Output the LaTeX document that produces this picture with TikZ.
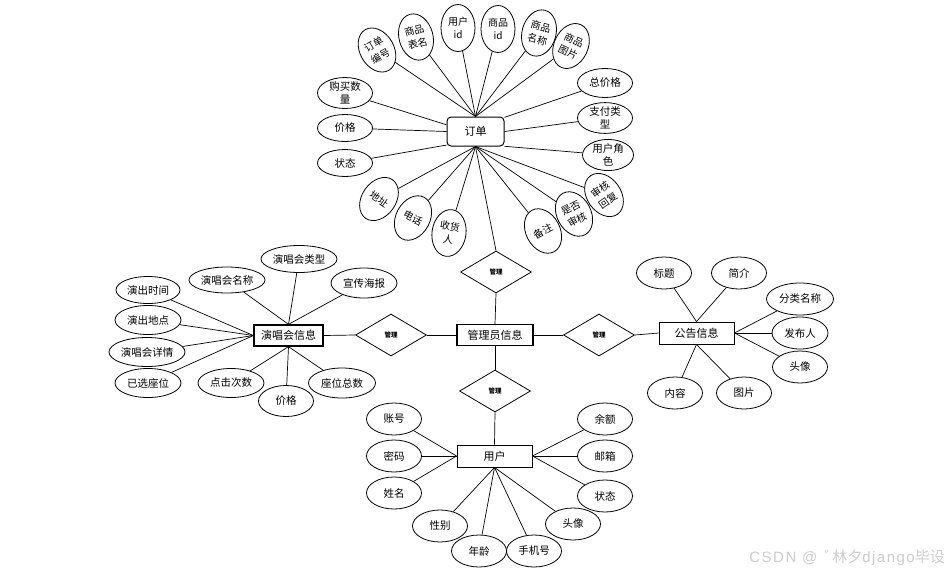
\documentclass[tikz,border=0pt]{standalone}
\usepackage{fontspec}
\setmainfont{Noto Sans CJK SC}
\newfontfamily\wmlatin{Liberation Sans}[LetterSpace=10]
\usetikzlibrary{shapes.geometric}
\begin{document}
\begin{tikzpicture}[x=1pt,y=-1pt,
  attr/.style={ellipse,draw,line width=0.8pt,minimum width=55pt,minimum height=29pt,inner sep=0pt,font=\fontsize{10.5}{12.5}\selectfont,align=center},
  rattr/.style={ellipse,draw,line width=0.8pt,minimum width=34pt,minimum height=47pt,inner sep=0pt,font=\fontsize{10}{13.5}\selectfont,align=center},
  ent/.style={rectangle,draw,line width=1pt,minimum width=75pt,minimum height=22pt,inner sep=0pt,font=\fontsize{11}{13}\selectfont},
  rel/.style={diamond,draw,line width=0.8pt,minimum width=71pt,minimum height=42pt,inner sep=0pt,font=\fontsize{6.5}{7.5}\selectfont\bfseries},
  link/.style={line width=0.7pt}]
\useasboundingbox (0,0) rectangle (950,576);

% ---------- order ----------
\node[ent,rounded corners=4pt,minimum width=57pt,minimum height=29pt] (order) at (475.5,131.5) {订单};
\node[rattr,rotate=30]  (a1) at (377,50) {订单\\编号};
\node[rattr,rotate=15]  (a2) at (416,37) {商品\\表名};
\node[rattr]            (a3) at (458,28) {用户\\id};
\node[rattr]            (a4) at (498,29) {商品\\id};
\node[rattr,rotate=-15] (a5) at (539,33) {商品\\名称};
\node[rattr,rotate=-25] (a6) at (571,46) {商品\\图片};
\node[attr,minimum height=27pt] (b1) at (345,93) {购买数\\量};
\node[attr,minimum height=27pt] (b2) at (345,128) {价格};
\node[attr,minimum height=27pt] (b3) at (345,163) {状态};
\node[attr] (c1) at (605,83) {总价格};
\node[attr,minimum height=27pt] (c2) at (605,118) {支付类\\型};
\node[attr,minimum width=51pt,minimum height=27pt] (c3) at (608,155) {用户角\\色};
\node[rattr,rotate=-35] (d1) at (379,199) {地址};
\node[rattr,rotate=-28] (d2) at (413,218) {电话};
\node[rattr,rotate=-8]  (d3) at (449,233) {收货\\人};
\node[rattr,rotate=28]  (d4) at (543,231) {备注};
\node[rattr,rotate=28]  (d5) at (574,214) {是否\\审核};
\node[rattr,rotate=35]  (d6) at (604,195) {审核\\回复};
\foreach \n in {a1,a2,a3,a4,a5,a6} \draw[link] (order.north) -- (\n);
\foreach \n in {d1,d2,d3,d4,d5,d6} \draw[link] (order.south) -- (\n);
\draw[link] (b1) -- (order.167);
\draw[link] (b2) -- (order.180);
\draw[link] (b3) -- (order.205);
\draw[link] (c1) -- (order.26);
\draw[link] (c2) -- (order.0);
\draw[link] (c3) -- (order.-27);

% ---------- admin + relations ----------
\node[ent,line width=1.3pt,minimum width=76pt,minimum height=21pt] (admin) at (495,335) {管理员信息};
\node[rel] (r1) at (496,272) {管理};
\node[rel] (r2) at (391,335) {管理};
\node[rel] (r3) at (599,335) {管理};
\node[rel] (r4) at (495,391) {管理};
\draw[link] (order.south) -- (r1.north);
\draw[link] (r1.south) -- (admin.north);
\draw[link] (r2.east) -- (admin.west);
\draw[link] (r3.west) -- (admin.east);
\draw[link] (admin.south) -- (r4.north);

% ---------- concert ----------
\node[ent,line width=1.3pt,minimum width=69pt,minimum height=21pt] (con) at (288.5,335.5) {演唱会信息};
\node[attr,minimum width=64pt,minimum height=27pt] (e1) at (148,290) {演出时间};
\node[attr,minimum width=66pt,minimum height=29pt] (e2) at (148,320) {演出地点};
\node[attr,minimum width=76pt,minimum height=29pt] (e3) at (147,352) {演唱会详情};
\node[attr,minimum width=66pt,minimum height=29pt] (e4) at (148,383) {已选座位};
\node[attr,minimum width=76pt,minimum height=26pt] (e5) at (227,280) {演唱会名称};
\node[attr,minimum width=76pt,minimum height=27pt] (e6) at (299,259) {演唱会类型};
\node[attr,minimum width=66pt,minimum height=30pt] (e7) at (364,283) {宣传海报};
\node[attr,minimum width=66pt,minimum height=29pt] (e8) at (231,383) {点击次数};
\node[attr,minimum width=55pt,minimum height=31pt] (e9) at (286,401) {价格};
\node[attr,minimum width=67pt,minimum height=30pt] (e10) at (342,383) {座位总数};
\foreach \n in {e1,e2,e3,e4} \draw[link] (con.west) -- (\n);
\foreach \n in {e5,e6,e7} \draw[link] (con.north) -- (\n);
\foreach \n in {e8,e9,e10} \draw[link] (con.south) -- (\n);
\draw[link] (con.east) -- (r2.west);

% ---------- announcement ----------
\node[ent,line width=0.9pt] (ann) at (696.5,333) {公告信息};
\node[attr,minimum height=32pt] (f1) at (664,273) {标题};
\node[attr,minimum height=32pt] (f2) at (739,273) {简介};
\node[attr,minimum width=67pt,minimum height=32pt] (f3) at (800,299) {分类名称};
\node[attr,minimum width=56pt,minimum height=32pt] (f4) at (800,333) {发布人};
\node[attr,minimum height=32pt] (f5) at (800,367) {头像};
\node[attr,minimum height=32pt] (f6) at (675,393) {内容};
\node[attr,minimum height=32pt] (f7) at (744,393) {图片};
\foreach \n in {f1,f2} \draw[link] (ann.north) -- (\n);
\foreach \n in {f3,f4,f5} \draw[link] (ann.east) -- (\n);
\foreach \n in {f6,f7} \draw[link] (ann.south) -- (\n);
\draw[link] (r3.east) -- (ann.west);

% ---------- user ----------
\node[ent,line width=0.9pt] (user) at (494.5,456) {用户};
\node[attr,minimum height=32pt] (g1) at (394,419) {账号};
\node[attr,minimum height=32pt] (g2) at (394,456) {密码};
\node[attr,minimum height=32pt] (g3) at (394,493) {姓名};
\node[attr,minimum height=32pt] (g4) at (605,419) {余额};
\node[attr,minimum height=32pt] (g5) at (605,456) {邮箱};
\node[attr,minimum height=32pt] (g6) at (605,496) {状态};
\node[attr,minimum height=32pt] (g7) at (440,526) {性别};
\node[attr,minimum height=32pt] (g8) at (479,551) {年龄};
\node[attr,minimum height=32pt] (g9) at (534,551) {手机号};
\node[attr,minimum height=32pt] (g10) at (573,524) {头像};
\foreach \n in {g1,g2,g3} \draw[link] (user.west) -- (\n);
\foreach \n in {g4,g5,g6} \draw[link] (user.east) -- (\n);
\foreach \n in {g7,g8,g9,g10} \draw[link] (user.south) -- (\n);
\draw[link] (r4.south) -- (user.north);

% ---------- watermark ----------
\node[text=gray!40,font=\fontsize{15}{17}\selectfont,anchor=east,inner sep=0pt] (wm) at (945,558) {{\wmlatin CSDN @}\hspace{9pt}\kern-2pt゛\kern-7pt 林夕{\wmlatin django}毕设};
\end{tikzpicture}
\end{document}
